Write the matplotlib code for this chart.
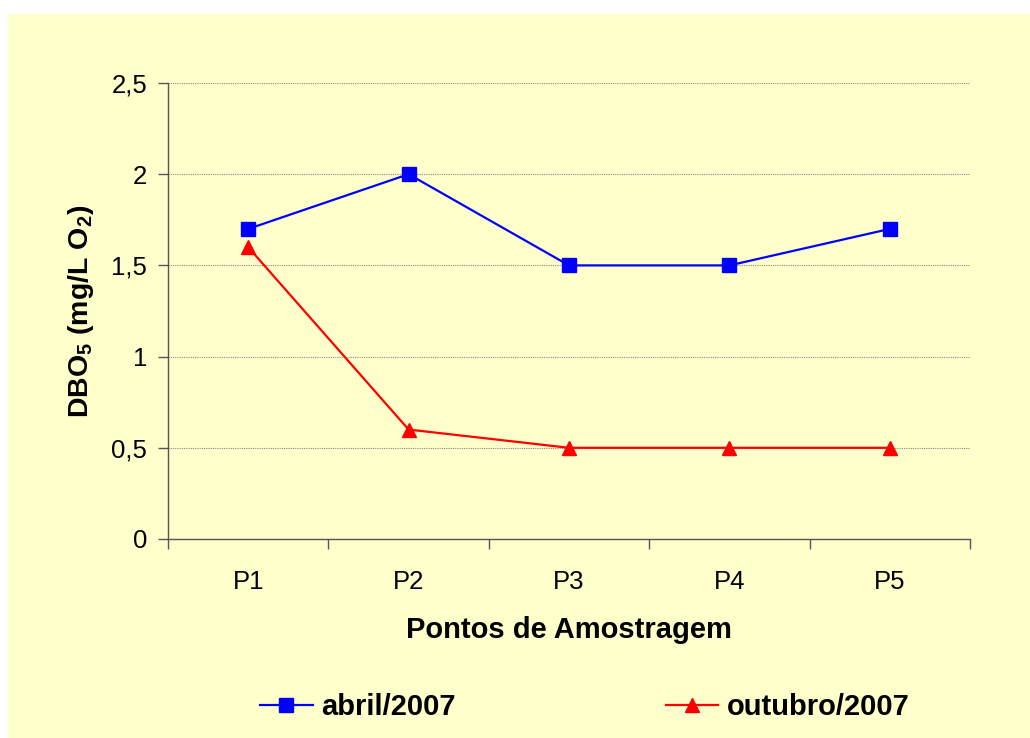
import matplotlib
matplotlib.use("Agg")
import matplotlib.pyplot as plt
from matplotlib.patches import Rectangle

plt.rcParams['font.family'] = ['Liberation Sans', 'DejaVu Sans']
plt.rcParams['mathtext.fontset'] = 'custom'
plt.rcParams['mathtext.rm'] = 'Liberation Sans'
plt.rcParams['mathtext.bf'] = 'Liberation Sans:bold'
plt.rcParams['mathtext.default'] = 'regular'

categories = ["P1", "P2", "P3", "P4", "P5"]
abril = [1.7, 2.0, 1.5, 1.5, 1.7]
outubro = [1.6, 0.6, 0.5, 0.5, 0.5]
yticks = [0, 0.5, 1, 1.5, 2, 2.5]
ytick_labels = ["0", "0,5", "1", "1,5", "2", "2,5"]

bg = "#FFFFCC"
fig = plt.figure(figsize=(10.30, 7.38), dpi=100)
fig.patch.set_facecolor("white")
fig.patches.append(Rectangle((8/1030, 0), 1, 1 - 14/738, transform=fig.transFigure,
                             facecolor=bg, edgecolor="none", zorder=-10))

ax = fig.add_axes([168/1030, 1 - 539/738, (970-168)/1030, (539-83)/738])
ax.set_facecolor(bg)

xpos = [i + 0.5 for i in range(len(categories))]
ax.plot(xpos, abril, color="#0000FF", lw=1.6, marker="s", markersize=9.5,
        label="abril/2007", zorder=3, clip_on=False)
ax.plot(xpos, outubro, color="#FF0000", lw=1.6, marker="^", markersize=10,
        label="outubro/2007", zorder=3, clip_on=False)

ax.set_xlim(0, len(categories))
ax.set_ylim(0, 2.5)
ax.set_xticks(range(len(categories) + 1))
ax.set_xticklabels([])
ax.set_xticks(xpos, minor=True)
ax.set_xticklabels(categories, minor=True, fontsize=18.5)
ax.tick_params(axis="x", which="minor", length=0, pad=22)
ax.tick_params(axis="x", which="major", length=7, width=1, color="#555555", direction="out")
ax.set_yticks(yticks)
ax.set_yticklabels(ytick_labels, fontsize=18.5)
ax.tick_params(axis="y", length=7, width=1, color="#555555", direction="out", pad=8)

ax.yaxis.grid(True, linestyle=(0, (1, 1)), color="#888888", lw=0.8)
ax.set_axisbelow(True)
for s in ["top", "right"]:
    ax.spines[s].set_visible(False)
for s in ["left", "bottom"]:
    ax.spines[s].set_color("#555555")
    ax.spines[s].set_linewidth(1)

ax.set_xlabel("Pontos de Amostragem", fontsize=21, fontweight="bold", labelpad=16)
ax.set_ylabel(r"DBO$_{5}$ (mg/L O$_{2}$)", fontsize=20.5, fontweight="bold", labelpad=11)

fig.legend(loc="center", bbox_to_anchor=(0.568, 0.042), ncol=2, frameon=False,
           prop={"size": 21, "weight": "bold"}, handlelength=1.8, handletextpad=0.3,
           columnspacing=7.2, markerscale=1.0)

fig.savefig("out.png", dpi=100, facecolor=fig.get_facecolor())
